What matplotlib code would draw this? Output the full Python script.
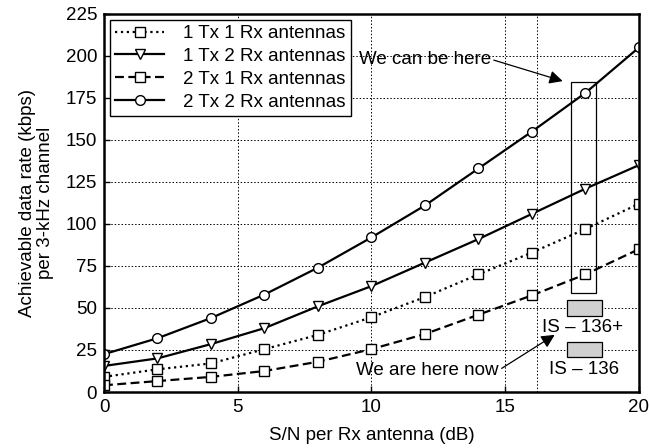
import numpy as np
import matplotlib
matplotlib.use("Agg")
import matplotlib.pyplot as plt
from matplotlib.patches import Rectangle

plt.rcParams['font.family'] = ['Liberation Sans', 'DejaVu Sans']

# S/N per Rx antenna (dB)
snr = [0, 2, 4, 6, 8, 10, 12, 14, 16, 18, 20]

# achievable data rate (kbps) per 3-kHz channel
rate_1tx1rx = [9, 13.5, 17, 25.5, 34, 44.5, 56.5, 70, 83, 97, 112]
rate_1tx2rx = [15.5, 20, 28.5, 38, 51, 63, 77, 91, 106, 121, 135]
rate_2tx1rx = [4, 6.5, 9, 12.5, 18, 25.5, 34.5, 46, 57.5, 70, 85]
rate_2tx2rx = [22.5, 32, 44, 58, 74, 92, 111, 133, 155, 178, 205]

labels = ["1 Tx 1 Rx antennas", "1 Tx 2 Rx antennas",
          "2 Tx 1 Rx antennas", "2 Tx 2 Rx antennas"]

xticks = [0, 5, 10, 15, 20]
yticks = [0, 25, 50, 75, 100, 125, 150, 175, 200, 225]

fs = 13.5

fig = plt.figure(figsize=(6.5, 4.48), dpi=100)
ax = fig.add_axes([0.16, 0.125, 0.823, 0.844])

mk = dict(markerfacecolor='white', markeredgecolor='black', markeredgewidth=1.0)
ax.plot(snr, rate_1tx1rx, color='black', linestyle=':', lw=1.6, marker='s', ms=6.5, label=labels[0], **mk)
ax.plot(snr, rate_1tx2rx, color='black', linestyle='-', lw=1.6, marker='v', ms=7.5, label=labels[1], **mk)
ax.plot(snr, rate_2tx1rx, color='black', linestyle=(0, (4, 2)), lw=1.6, marker='s', ms=6.5, label=labels[2], **mk)
ax.plot(snr, rate_2tx2rx, color='black', linestyle='-', lw=1.6, marker='o', ms=7, label=labels[3], **mk)

ax.set_xlim(0, 20)
ax.set_ylim(0, 225)
ax.set_xticks(xticks)
ax.set_yticks(yticks)
ax.grid(True, color='black', linestyle=(0, (1.5, 2)), linewidth=0.7)
ax.axvline(16.2, color='black', linestyle=(0, (1.5, 2)), linewidth=0.7)
ax.set_axisbelow(True)
for s in ax.spines.values():
    s.set_linewidth(1.8)
ax.tick_params(direction='in', length=4, width=1, labelsize=fs, pad=5)

ax.set_xlabel("S/N per Rx antenna (dB)", fontsize=fs, labelpad=8)
ax.set_ylabel("Achievable data rate (kbps)\nper 3-kHz channel", fontsize=fs, linespacing=1.1, labelpad=8)

leg = ax.legend(loc='upper left', fontsize=fs, handlelength=2.6, frameon=True, fancybox=False,
                edgecolor='black', framealpha=1, borderpad=0.3, labelspacing=0.3,
                handletextpad=1.0, borderaxespad=0.3)
leg.get_frame().set_linewidth(1.0)

# "We can be here" box around 18 dB
ax.add_patch(Rectangle((17.45, 59), 0.95, 125.5, fill=False, edgecolor='black', lw=0.9, zorder=5))
# IS-136 boxes
ax.add_patch(Rectangle((17.3, 45), 1.3, 10, facecolor='#d0d0d0', edgecolor='black', lw=0.9, zorder=5))
ax.add_patch(Rectangle((17.3, 21), 1.3, 9, facecolor='#d0d0d0', edgecolor='black', lw=0.9, zorder=5))
ax.text(17.9, 38.5, "IS \u2013 136+", ha='center', va='center', fontsize=fs)
ax.text(17.95, 13.5, "IS \u2013 136", ha='center', va='center', fontsize=fs)

ax.annotate("We can be here", xy=(17.15, 185), xytext=(12.0, 198),
            ha='center', va='center', fontsize=fs,
            arrowprops=dict(arrowstyle='-|>', color='black', lw=0.9, mutation_scale=20,
                            shrinkA=0, shrinkB=0, relpos=(1.0, 0.5)))
ax.annotate("We are here now", xy=(16.85, 34), xytext=(12.1, 13),
            ha='center', va='center', fontsize=fs,
            arrowprops=dict(arrowstyle='-|>', color='black', lw=0.9, mutation_scale=20,
                            shrinkA=0, shrinkB=0, relpos=(1.0, 0.5)))

fig.savefig("out.png", dpi=100)
